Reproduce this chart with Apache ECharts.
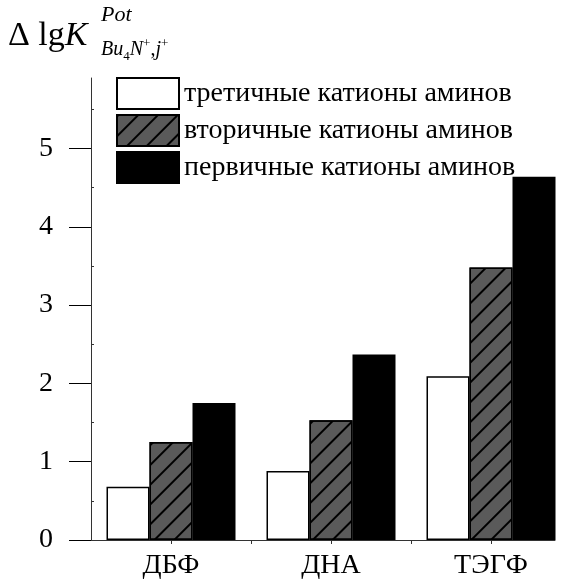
<!DOCTYPE html>
<html>
<head>
<meta charset="utf-8">
<script src="https://cdn.jsdelivr.net/npm/echarts@6/dist/echarts.min.js"></script>
<style>html,body{margin:0;padding:0;background:#fff}#c{width:566px;height:580px}</style>
</head>
<body>
<div id="c"></div>
<script>
var categories = ['ДБФ', 'ДНА', 'ТЭГФ'];
var categoryPos = [1, 2, 3];
var seriesNames = ['третичные катионы аминов', 'вторичные катионы аминов', 'первичные катионы аминов'];
var tertiary = [0.68, 0.88, 2.09];
var secondary = [1.25, 1.53, 3.48];
var primary = [1.75, 2.37, 4.64];
var yTicks = [0, 1, 2, 3, 4, 5];
var yMinorTicks = [0.5, 1.5, 2.5, 3.5, 4.5, 5.5];
var xMinorTicks = [1, 1.5, 2, 2.5, 3];

function pts(vals) { return vals.map(function (v, i) { return [categoryPos[i], v]; }); }

var FONT = '"Liberation Serif", "DejaVu Serif", serif';
var chart = echarts.init(document.getElementById('c'));
var barBase = { type: 'bar', barWidth: 43, barGap: '0%', xAxisIndex: 0, yAxisIndex: 0 };
var legendText = { fontFamily: FONT, fontSize: 28, color: '#000' };

chart.setOption({
  animation: false,
  textStyle: { fontFamily: FONT, color: '#000' },
  grid: { left: 91, right: 11, top: 78, bottom: 39 },
  legend: {
    orient: 'vertical', left: 111, top: 72, itemWidth: 62, itemHeight: 31, itemGap: 4,
    icon: 'rect',
    textStyle: legendText,
    data: seriesNames.map(function (n) { return { name: n, icon: 'rect', textStyle: legendText }; })
  },
  xAxis: {
    type: 'value', min: 0.5, max: 3.4,
    splitLine: { show: false },
    axisLine: { show: true, lineStyle: { color: '#333', width: 1 } },
    axisTick: { show: true, length: 4, customValues: xMinorTicks, lineStyle: { color: '#333' } },
    axisLabel: {
      customValues: categoryPos, margin: 12, fontSize: 28, color: '#000', fontFamily: FONT,
      formatter: function (v) { var i = categoryPos.indexOf(v); return i >= 0 ? categories[i] : ''; }
    }
  },
  yAxis: [{
    type: 'value', min: 0, max: 5.9,
    splitLine: { show: false },
    axisLine: { show: true, lineStyle: { color: '#333', width: 1 } },
    axisTick: { show: true, length: 22, customValues: yTicks, lineStyle: { color: '#000' } },
    axisLabel: { customValues: yTicks, margin: 38, fontSize: 28, color: '#000', fontFamily: FONT }
  }, {
    type: 'value', min: 0, max: 5.9, position: 'left',
    splitLine: { show: false },
    axisLine: { show: false },
    axisTick: { show: true, inside: true, length: 3, customValues: yMinorTicks, lineStyle: { color: '#333' } },
    axisLabel: { show: false }
  }],
  graphic: [
    { type: 'text', left: 8, top: 19, style: {
      text: '{n|Δ lg}{i|K}', rich: {
        n: { fontFamily: FONT, fontSize: 34, fill: '#000' },
        i: { fontFamily: FONT, fontSize: 34, fontStyle: 'italic', fill: '#000' } } } },
    { type: 'text', left: 101, top: 4, style: { text: 'Pot', fontFamily: FONT, fontSize: 22, fontStyle: 'italic', fill: '#000' } },
    { type: 'text', left: 101, top: 37, style: {
      text: '{i|Bu}{s|4}{i|N}{p|+}{n|,}{i|j}{p|+}', rich: {
        i: { fontFamily: FONT, fontSize: 20, fontStyle: 'italic', fill: '#000', lineHeight: 26, verticalAlign: 'middle' },
        n: { fontFamily: FONT, fontSize: 20, fill: '#000', lineHeight: 26 },
        s: { fontFamily: FONT, fontSize: 13, fill: '#000', lineHeight: 26, verticalAlign: 'bottom' },
        p: { fontFamily: FONT, fontSize: 13, fill: '#000', lineHeight: 26, verticalAlign: 'top' } } } }
  ],
  series: [
    Object.assign({}, barBase, { name: seriesNames[0], data: pts(tertiary),
      itemStyle: { color: '#fff', borderColor: '#000', borderWidth: 1.5 } }),
    Object.assign({}, barBase, { name: seriesNames[1], data: pts(secondary),
      itemStyle: { color: '#5a5a5a', borderColor: '#000', borderWidth: 1.5,
        decal: { symbol: 'rect', symbolSize: 1, color: '#000', dashArrayX: [1, 0], dashArrayY: [2, 12], rotation: -Math.PI / 4 } } }),
    Object.assign({}, barBase, { name: seriesNames[2], data: pts(primary),
      itemStyle: { color: '#000', borderColor: '#000', borderWidth: 1.5 } })
  ]
});
</script>
</body>
</html>
